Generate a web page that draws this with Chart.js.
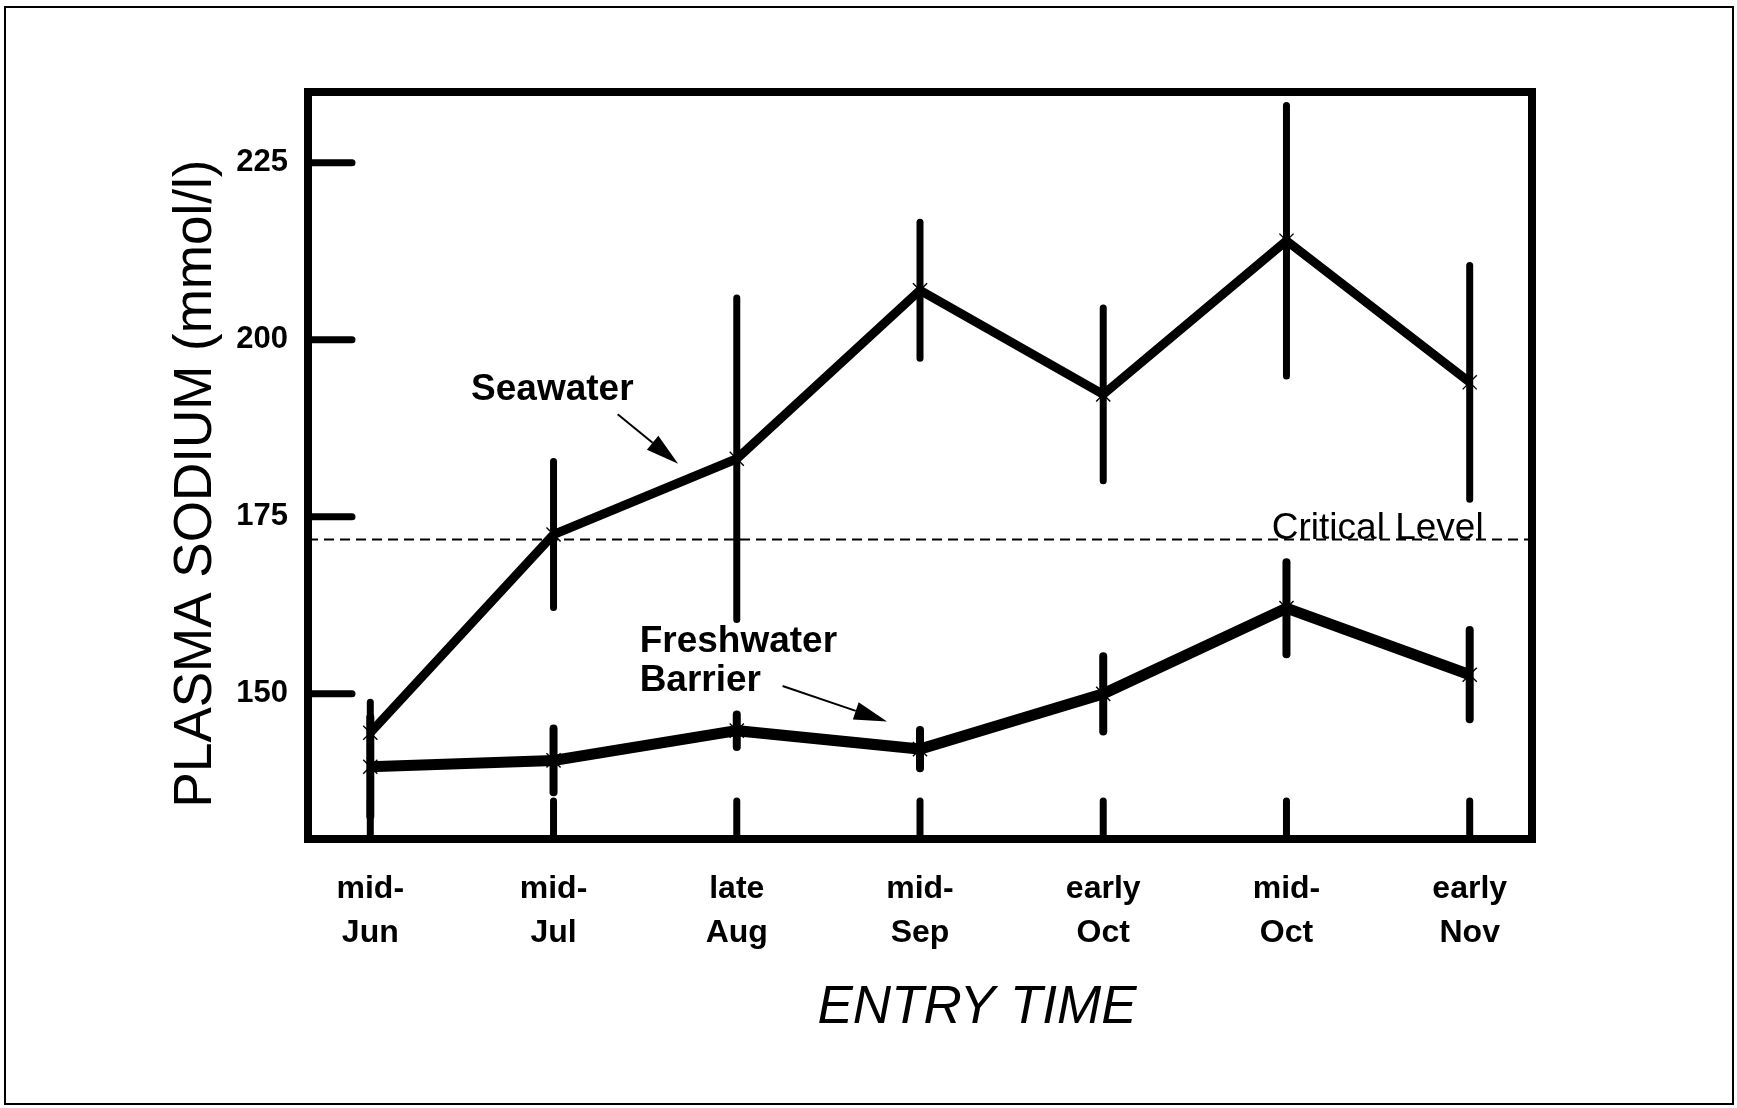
<!DOCTYPE html>
<html>
<head>
<meta charset="utf-8">
<title>Plasma sodium by entry time</title>
<script src="https://cdn.jsdelivr.net/npm/chart.js@4.4.1/dist/chart.umd.min.js"></script>
<style>
  html, body { margin: 0; padding: 0; background: #fff; }
  canvas { display: block; }
</style>
</head>
<body>
<canvas id="sodium-chart" width="1737" height="1108"></canvas>
<script>
// entry times on the x axis (two lines per label)
const entryTop = ["mid-", "mid-", "late", "mid-", "early", "mid-", "early"];
const entryBottom = ["Jun", "Jul", "Aug", "Sep", "Oct", "Oct", "Nov"];

// plasma sodium, mmol/l: means and half-length of the error bars
const seawater = [144.5, 172.5, 183.2, 207.0, 192.3, 214.0, 194.0];
const seawaterErr = [4.3, 10.3, 22.7, 9.6, 12.2, 19.1, 16.5];
const freshwater = [139.7, 140.6, 144.8, 142.2, 150.0, 162.1, 152.7];
const freshwaterErr = [7.0, 4.5, 2.3, 2.7, 5.3, 6.5, 6.3];

const criticalLevel = 171.8;
const yTicks = [150, 175, 200, 225];

// labels and arrows, placed in data units (x = entry index, y = mmol/l)
const notes = [
  { text: "Seawater", x: 0.55, y: 192.9, weight: "bold", size: 37 },
  { text: "Freshwater", x: 1.47, y: 157.4, weight: "bold", size: 37 },
  { text: "Barrier", x: 1.47, y: 151.9, weight: "bold", size: 37 },
  { text: "Critical Level", x: 4.92, y: 173.3, weight: "normal", size: 37 }
];
const arrows = [
  { from: [1.35, 189.5], to: [1.68, 182.5] },
  { from: [2.25, 151.1], to: [2.82, 146.1] }
];

const X_MIN = -0.34, X_MAX = 6.34;
const FONT = '"Liberation Sans", Arial, Helvetica, sans-serif';

const toPoints = arr => arr.map((v, i) => ({ x: i, y: v }));

// frame, inward ticks, error bars, notes and axis titles
const decorations = {
  id: "decorations",
  beforeDraw(chart) {
    const { ctx, width, height } = chart;
    ctx.save();
    ctx.fillStyle = "#fff";
    ctx.fillRect(0, 0, width, height);
    ctx.strokeStyle = "#000";
    ctx.lineWidth = 2;
    ctx.strokeRect(5, 7, width - 9, height - 11);
    ctx.restore();
  },
  beforeDatasetsDraw(chart) {
    const { ctx, chartArea: a, scales: { x, y } } = chart;
    ctx.save();
    ctx.beginPath();
    ctx.rect(a.left, a.top, a.right - a.left, a.bottom - a.top);
    ctx.clip();
    ctx.strokeStyle = "#000";
    ctx.lineCap = "round";
    [[seawater, seawaterErr, 7], [freshwater, freshwaterErr, 8]].forEach(([means, errs, w]) => {
      ctx.lineWidth = w;
      means.forEach((v, i) => {
        const px = x.getPixelForValue(i);
        ctx.beginPath();
        ctx.moveTo(px, y.getPixelForValue(v - errs[i]));
        ctx.lineTo(px, y.getPixelForValue(v + errs[i]));
        ctx.stroke();
      });
    });
    ctx.restore();
  },
  afterDraw(chart) {
    const { ctx, chartArea: a, scales: { x, y } } = chart;
    ctx.save();
    ctx.strokeStyle = "#000";
    ctx.fillStyle = "#000";

    // inward tick marks
    ctx.lineCap = "round";
    ctx.lineWidth = 7;
    entryTop.forEach((t, i) => {
      const px = x.getPixelForValue(i);
      ctx.beginPath();
      ctx.moveTo(px, a.bottom);
      ctx.lineTo(px, a.bottom - 38);
      ctx.stroke();
    });
    yTicks.forEach(v => {
      const py = y.getPixelForValue(v);
      ctx.beginPath();
      ctx.moveTo(a.left, py);
      ctx.lineTo(a.left + 44, py);
      ctx.stroke();
    });

    // plot box
    ctx.lineCap = "butt";
    ctx.lineWidth = 8;
    ctx.strokeRect(a.left, a.top, a.right - a.left, a.bottom - a.top);

    // notes
    ctx.textAlign = "left";
    ctx.textBaseline = "middle";
    notes.forEach(n => {
      ctx.font = n.weight + " " + n.size + "px " + FONT;
      ctx.fillText(n.text, x.getPixelForValue(n.x), y.getPixelForValue(n.y));
    });

    // arrows
    arrows.forEach(ar => {
      const x0 = x.getPixelForValue(ar.from[0]), y0 = y.getPixelForValue(ar.from[1]);
      const x1 = x.getPixelForValue(ar.to[0]), y1 = y.getPixelForValue(ar.to[1]);
      const ang = Math.atan2(y1 - y0, x1 - x0);
      const len = 33, half = 9;
      const bx = x1 - len * Math.cos(ang), by = y1 - len * Math.sin(ang);
      ctx.lineWidth = 2;
      ctx.beginPath();
      ctx.moveTo(x0, y0);
      ctx.lineTo(bx, by);
      ctx.stroke();
      ctx.beginPath();
      ctx.moveTo(x1, y1);
      ctx.lineTo(bx + half * Math.sin(ang), by - half * Math.cos(ang));
      ctx.lineTo(bx - half * Math.sin(ang), by + half * Math.cos(ang));
      ctx.closePath();
      ctx.fill();
    });

    // axis titles
    ctx.textAlign = "center";
    ctx.font = "53px " + FONT;
    ctx.translate(a.left - 112, (a.top + a.bottom) / 2 + 18);
    ctx.rotate(-Math.PI / 2);
    ctx.fillText("PLASMA SODIUM (mmol/l)", 0, 0);
    ctx.setTransform(1, 0, 0, 1, 0, 0);
    ctx.font = "italic 53px " + FONT;
    ctx.fillText("ENTRY TIME", (a.left + a.right) / 2 + 57, a.bottom + 169);
    ctx.restore();
  }
};

new Chart(document.getElementById("sodium-chart"), {
  type: "line",
  data: {
    datasets: [
      {
        label: "Seawater",
        data: toPoints(seawater),
        borderColor: "#000",
        borderWidth: 9,
        pointStyle: "crossRot",
        pointRadius: 10,
        pointBorderWidth: 1.4,
        pointBorderColor: "#000",
        tension: 0
      },
      {
        label: "Freshwater Barrier",
        data: toPoints(freshwater),
        borderColor: "#000",
        borderWidth: 11,
        pointStyle: "crossRot",
        pointRadius: 10,
        pointBorderWidth: 1.4,
        pointBorderColor: "#000",
        tension: 0
      },
      {
        label: "Critical Level",
        data: [{ x: X_MIN, y: criticalLevel }, { x: X_MAX, y: criticalLevel }],
        borderColor: "#000",
        borderWidth: 1.8,
        borderDash: [10, 6],
        pointRadius: 0
      }
    ]
  },
  options: {
    responsive: false,
    animation: false,
    layout: { padding: { top: 92, right: 205, left: 0, bottom: 0 } },
    plugins: { legend: { display: false }, tooltip: { enabled: false } },
    scales: {
      x: {
        type: "linear",
        min: X_MIN,
        max: X_MAX,
        grid: { display: false, drawTicks: false },
        border: { display: false },
        afterFit(s) { s.height = 269; },
        afterBuildTicks(s) { s.ticks = entryTop.map((t, i) => ({ value: i })); },
        ticks: {
          autoSkip: false,
          maxRotation: 0,
          padding: 28,
          color: "#000",
          font: { family: FONT, size: 32, weight: "bold", lineHeight: 1.38 },
          callback: v => [entryTop[v], entryBottom[v]]
        }
      },
      y: {
        min: 129.5,
        max: 235,
        grid: { display: false, drawTicks: false },
        border: { display: false },
        afterFit(s) { s.width = 308; },
        afterBuildTicks(s) { s.ticks = yTicks.map(v => ({ value: v })); },
        ticks: {
          padding: 20,
          color: "#000",
          font: { family: FONT, size: 31, weight: "bold" }
        }
      }
    }
  },
  plugins: [decorations]
});
</script>
</body>
</html>
